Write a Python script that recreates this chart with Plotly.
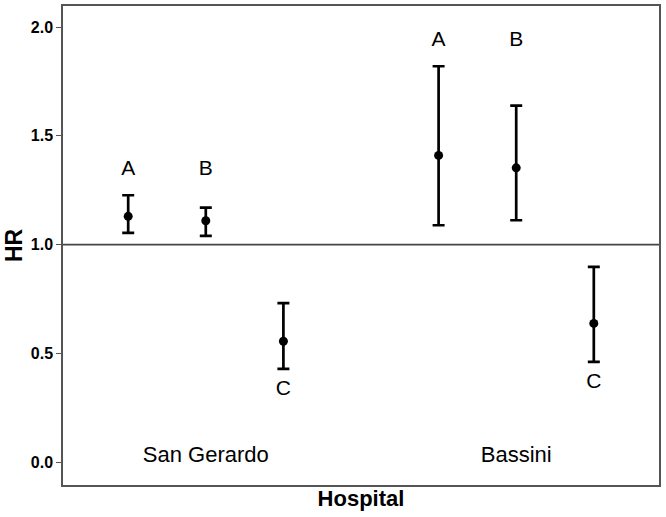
import plotly.graph_objects as go

hospitals = ["San Gerardo", "Bassini"]
groups = ["A", "B", "C"]

# hazard ratios with 95% CI, per hospital (A, B, C)
hr = [[1.13, 1.11, 0.556], [1.41, 1.353, 0.638]]
lower = [[1.054, 1.04, 0.429], [1.089, 1.112, 0.461]]
upper = [[1.227, 1.17, 0.731], [1.82, 1.639, 0.898]]

REF_HR = 1.0  # no-effect line
name_y = [0.028, 0.028]  # where the hospital names sit

font = "Liberation Sans, Arial, sans-serif"

fig = go.Figure()

for h, name in enumerate(hospitals):
    xs = [h * 4 + g + 1 for g in range(len(groups))]
    fig.add_trace(go.Scatter(
        x=xs, y=hr[h], mode="markers",
        marker=dict(color="black", size=9),
        error_y=dict(type="data", symmetric=False,
                     array=[u - v for u, v in zip(upper[h], hr[h])],
                     arrayminus=[v - l for v, l in zip(hr[h], lower[h])],
                     color="black", thickness=2.7, width=6),
        showlegend=False, hoverinfo="skip"))

    # letter labels: A and B above the group's highest CI, C below its CI
    top = max(upper[h][:2])
    label_y = [top + 0.115, top + 0.115, lower[h][2] - 0.095]
    fig.add_trace(go.Scatter(
        x=xs, y=label_y, mode="text", text=groups,
        textfont=dict(family=font, size=21, color="black"),
        showlegend=False, hoverinfo="skip"))

    fig.add_trace(go.Scatter(
        x=[xs[1]], y=[name_y[h]], mode="text", text=[name],
        textfont=dict(family=font, size=22, color="black"),
        showlegend=False, hoverinfo="skip"))

fig.add_hline(y=REF_HR, line=dict(color="#444444", width=1.6))

fig.update_layout(
    width=666, height=517,
    margin=dict(l=63, r=7, t=6, b=32),
    plot_bgcolor="white", paper_bgcolor="white",
    font=dict(family=font, color="black"),
)
fig.update_xaxes(
    range=[0.16, 7.84], showgrid=False, zeroline=False,
    showticklabels=False, ticks="", automargin=False,
    showline=True, mirror=True, linecolor="#555555", linewidth=1.5,
    title=dict(text="<b>Hospital</b>", font=dict(size=22), standoff=5),
)
fig.update_yaxes(
    range=[-0.105, 2.097], showgrid=False, zeroline=False, automargin=False,
    tickvals=[0.0, 0.5, 1.0, 1.5, 2.0], ticktext=["0.0", "0.5", "1.0", "1.5", "2.0"],
    ticks="outside", ticklen=5, tickcolor="#555555", tickwidth=1.3,
    tickfont=dict(size=16, color="black", weight="bold"),
    showline=True, mirror=True, linecolor="#555555", linewidth=1.5,
    title=dict(text="<b>HR</b>", font=dict(size=23), standoff=2),
)

fig.write_html("out.html", config={"displayModeBar": False},
               post_script="document.body.style.margin='0';")
